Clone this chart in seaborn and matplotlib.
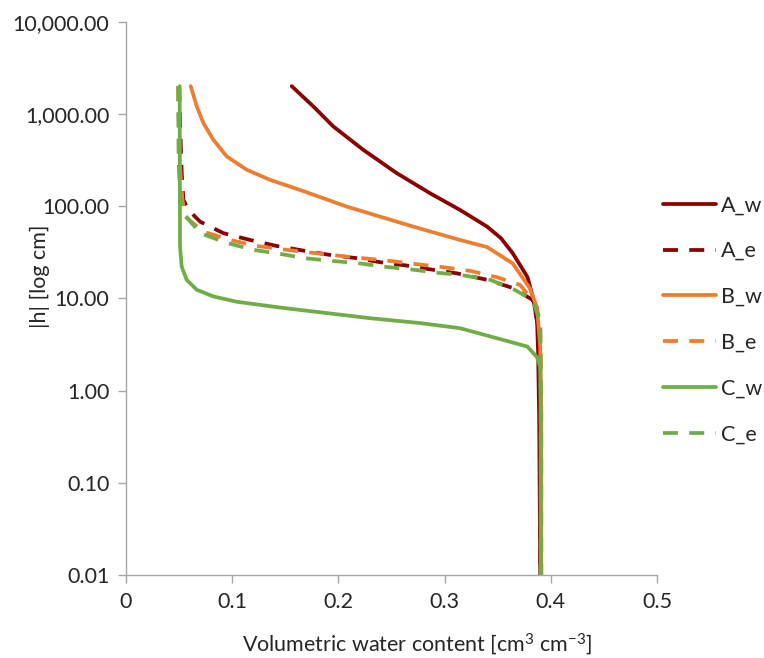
import pandas as pd
import numpy as np
import matplotlib
matplotlib.use("Agg")
import matplotlib.pyplot as plt
import matplotlib.ticker as mticker
import seaborn as sns

# theta [cm3 cm-3], |h| [cm]
a_w_theta = [0.156, 0.1764, 0.1952, 0.2234, 0.2549, 0.2863, 0.3145, 0.340, 0.353, 0.364,
             0.371, 0.378, 0.383, 0.387, 0.388, 0.389, 0.390]
a_w_h = [2000, 1205, 731, 408, 228, 138, 91, 60, 45, 31, 23, 17, 10.4, 5.8, 2.6, 0.5, 0.01]

a_e_theta = [0.050, 0.051, 0.0524, 0.054, 0.0587, 0.0697, 0.0916, 0.1168, 0.1419, 0.1669,
             0.1921, 0.2172, 0.2392, 0.2643, 0.2894, 0.3114, 0.340, 0.364, 0.383, 0.388,
             0.390, 0.390]
a_e_h = [2000, 700, 230, 117, 91, 68, 51, 43, 37, 33, 29.6, 27.3, 24.7, 22.7, 20.4, 18.7,
         15.9, 13, 9.6, 5, 1, 0.01]

b_w_theta = [0.0609, 0.0666, 0.0728, 0.0822, 0.0948, 0.1137, 0.1356, 0.1638, 0.2078,
             0.2392, 0.2705, 0.3145, 0.340, 0.364, 0.380, 0.387, 0.390, 0.391, 0.391]
b_w_h = [2000, 1205, 796, 525, 346, 248, 193, 150, 99, 77, 60, 43, 36, 24, 13, 8, 3,
         0.5, 0.01]

b_e_theta = [0.049, 0.0505, 0.053, 0.0556, 0.0728, 0.0979, 0.1231, 0.1513, 0.200, 0.2486,
             0.2737, 0.2988, 0.324, 0.349, 0.371, 0.385, 0.390, 0.391, 0.391]
b_e_h = [2000, 300, 120, 77, 53, 43, 37, 33.6, 29, 25.5, 23.5, 21.8, 19.9, 17, 14, 8.9, 5.8,
         1, 0.01]

c_w_theta = [0.0505, 0.0507, 0.0508, 0.0524, 0.0571, 0.0666, 0.0822, 0.1042, 0.140, 0.1638,
             0.2298, 0.277, 0.3145, 0.355, 0.378, 0.387, 0.390, 0.3905, 0.3905]
c_w_h = [2000, 100, 36.5, 22, 15.9, 12.4, 10.5, 9.2, 8.1, 7.5, 6.1, 5.4, 4.75, 3.55, 3.0,
         2.3, 1.8, 0.5, 0.01]

c_e_theta = [0.049, 0.0495, 0.051, 0.0555, 0.0697, 0.0948, 0.1199, 0.145, 0.1685, 0.1937,
             0.2187, 0.2423, 0.2674, 0.2926, 0.3145, 0.343, 0.366, 0.383, 0.390, 0.3905,
             0.3905]
c_e_h = [2000, 300, 120, 80, 51, 40, 33.6, 30.4, 27.3, 25.5, 24.1, 22.1, 20.7, 19, 18, 15.9,
         12.4, 9.6, 5.4, 1, 0.01]

series = ["A_w", "A_e", "B_w", "B_e", "C_w", "C_e"]
colors = {"A_w": "#8B0000", "A_e": "#8B0000",
          "B_w": "#ED7D31", "B_e": "#ED7D31",
          "C_w": "#70AD47", "C_e": "#70AD47"}
dash = (4.0, 3.0)
dashes = {"A_w": "", "A_e": dash, "B_w": "", "B_e": dash, "C_w": "", "C_e": dash}

frames = []
for name, th, h in [("A_w", a_w_theta, a_w_h), ("A_e", a_e_theta, a_e_h),
                    ("B_w", b_w_theta, b_w_h), ("B_e", b_e_theta, b_e_h),
                    ("C_w", c_w_theta, c_w_h), ("C_e", c_e_theta, c_e_h)]:
    frames.append(pd.DataFrame({"theta": th, "h": h, "curve": name}))
df = pd.concat(frames, ignore_index=True)

sns.set_style("white")
plt.rcParams["font.family"] = ["Lato", "DejaVu Sans"]
plt.rcParams["mathtext.default"] = "regular"
text_col = "#262626"
fs = 15.5

fig = plt.figure(figsize=(7.64, 6.58), dpi=100)
ax = fig.add_axes([0.165, 0.126, 0.695, 0.841])

sns.lineplot(data=df, x="theta", y="h", hue="curve", style="curve",
             hue_order=series, style_order=series, palette=colors,
             dashes=dashes, sort=False, estimator=None, linewidth=2.7, ax=ax)

ax.set_yscale("log")
ax.set_xlim(0, 0.5)
ax.set_ylim(0.01, 10000)
ax.set_xticks([0, 0.1, 0.2, 0.3, 0.4, 0.5])
ax.set_xticklabels(["0", "0.1", "0.2", "0.3", "0.4", "0.5"])
ax.set_yticks([0.01, 0.1, 1, 10, 100, 1000, 10000])
ax.yaxis.set_major_formatter(mticker.FuncFormatter(lambda v, p: f"{v:,.2f}"))
ax.yaxis.set_minor_locator(mticker.NullLocator())

for s in ["top", "right"]:
    ax.spines[s].set_visible(False)
for s in ["left", "bottom"]:
    ax.spines[s].set_color("#A6A6A6")
    ax.spines[s].set_linewidth(1.0)
ax.tick_params(axis="both", which="major", direction="out", length=6,
               width=1.0, color="#A6A6A6", labelsize=fs, labelcolor=text_col,
               left=True, bottom=True, pad=6)

ax.set_xlabel("Volumetric water content [cm$^{3}$ cm$^{-3}$]", fontsize=fs, color=text_col)
ax.xaxis.set_label_coords(0.548, -0.124)
ax.xaxis.label.set_va("center")
ax.set_ylabel("|h| [log cm]", fontsize=fs, color=text_col)
ax.yaxis.set_label_coords(-0.162, 0.54)
ax.yaxis.label.set_va("center")

handles, labels = ax.get_legend_handles_labels()
ax.get_legend().remove()
fig.legend(handles, labels, loc="center left", bbox_to_anchor=(0.868, 0.514),
           frameon=False, fontsize=fs, handlelength=2.45, handletextpad=0.25,
           labelspacing=1.2, borderpad=0, borderaxespad=0, labelcolor=text_col)

fig.savefig("out.png", dpi=100)
